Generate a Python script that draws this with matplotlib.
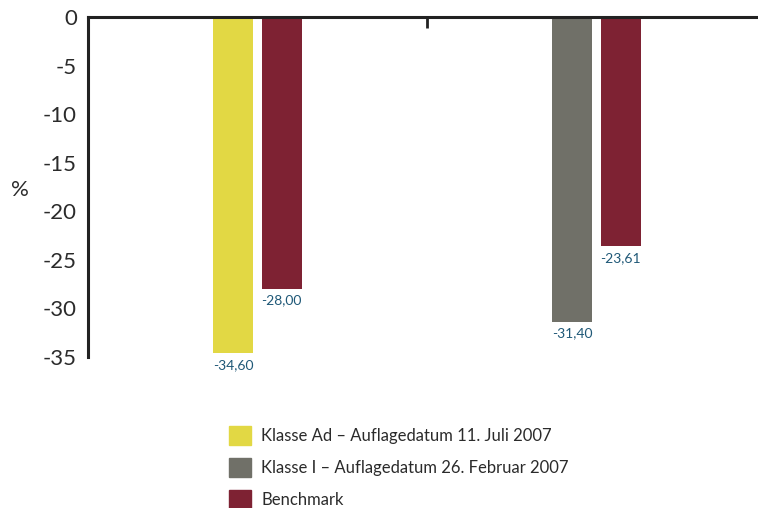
import matplotlib
matplotlib.use("Agg")
import matplotlib.pyplot as plt
import numpy as np
from matplotlib.patches import Patch

plt.rcParams["font.family"] = ["Lato", "DejaVu Sans"]

# Data
groups = ["Klasse", "Benchmark"]
class_values = [-34.60, -31.40]
bench_values = [-28.00, -23.61]
class_colors = ["#E2D844", "#707068"]
bench_color = "#7E2233"
legend_labels = [
    "Klasse Ad – Auflagedatum 11. Juli 2007",
    "Klasse I – Auflagedatum 26. Februar 2007",
    "Benchmark",
]
y_ticks = [0, -5, -10, -15, -20, -25, -30, -35]
label_color = "#1F5877"
axis_color = "#222222"
text_color = "#2B2B2B"


def fmt(v):
    return f"{v:.2f}".replace(".", ",")


fig = plt.figure(figsize=(7.58, 5.08), dpi=100)
ax = fig.add_axes([88 / 758, 1 - 357 / 508, 678 / 758, 340 / 508])

x = np.arange(len(class_values))
w = 0.118
gap = 0.0236
xa = x - (w + gap) / 2
xb = x + (w + gap) / 2

ax.bar(xa, class_values, width=w, color=class_colors, zorder=2)
ax.bar(xb, bench_values, width=w, color=bench_color, zorder=2)

for xs, vals in [(xa, class_values), (xb, bench_values)]:
    for xi, v in zip(xs, vals):
        ax.annotate(fmt(v), (xi, v), xytext=(0, -4), textcoords="offset points",
                    ha="center", va="top", fontsize=10, color=label_color)

ax.set_xlim(-0.5, 1.5)
ax.set_ylim(-35, 0)
ax.set_yticks(y_ticks)
ax.set_yticklabels([str(t) for t in y_ticks], fontsize=16, color=text_color)
ax.tick_params(axis="y", length=0, pad=8)

ax.xaxis.tick_top()
ax.set_xticks([0.5])
ax.set_xticklabels([])
ax.tick_params(axis="x", direction="in", length=8, width=2, color=axis_color)

for s in ["bottom", "right"]:
    ax.spines[s].set_visible(False)
for s in ["top", "left"]:
    ax.spines[s].set_linewidth(2.2)
    ax.spines[s].set_color(axis_color)

fig.text(20 / 758, 1 - 190 / 508, "%", fontsize=16, color=text_color,
         ha="center", va="center")

handles = [Patch(color=class_colors[0]), Patch(color=class_colors[1]), Patch(color=bench_color)]
fig.legend(handles, legend_labels, loc="upper left",
           bbox_to_anchor=(222 / 758, 1 - 419 / 508), frameon=False,
           fontsize=12, handlelength=1.35, handleheight=1.4, handletextpad=0.6,
           labelspacing=0.78, labelcolor=text_color, borderaxespad=0)

fig.savefig("out.png", dpi=100)
